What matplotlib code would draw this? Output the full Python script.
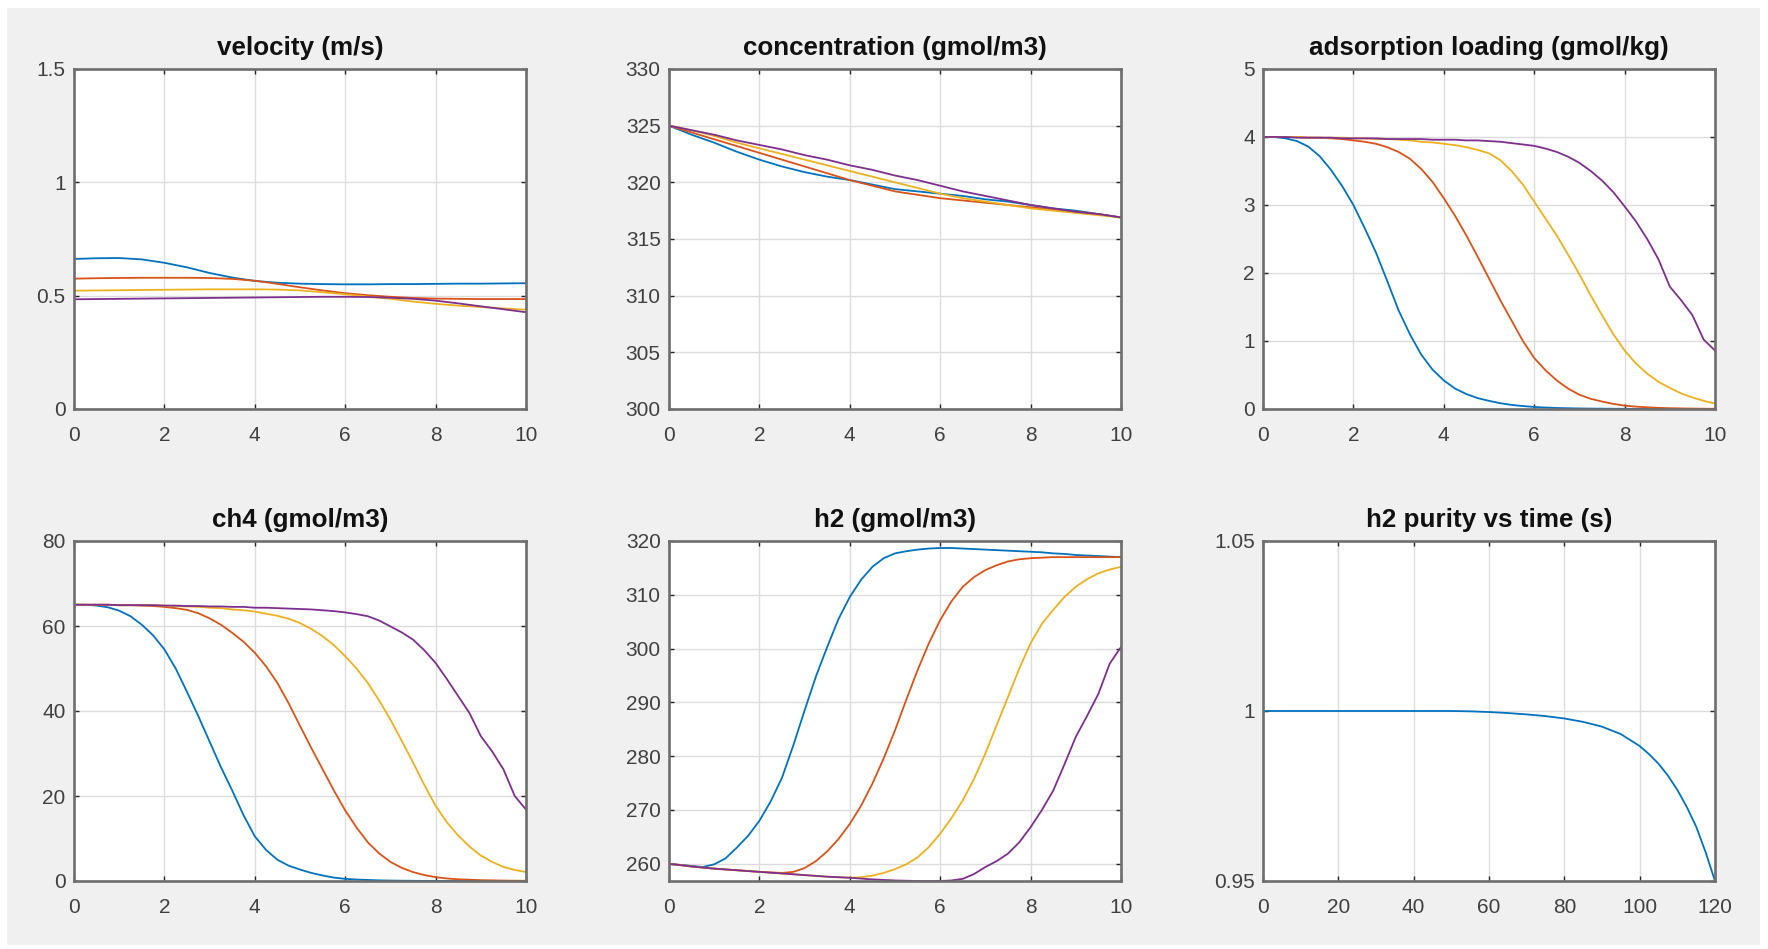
import matplotlib
matplotlib.use("Agg")
import matplotlib.pyplot as plt
from matplotlib.patches import Rectangle
from matplotlib.ticker import FormatStrFormatter

# axial position along the bed: coarse grid for the smooth profiles,
# fine grid for the steep breakthrough fronts
z = [0, 0.5, 1, 1.5, 2, 2.5, 3, 3.5, 4, 4.5, 5, 5.5, 6, 6.5, 7, 7.5, 8, 8.5, 9, 9.5, 10]
z_fine = [0, 0.25, 0.5, 0.75, 1, 1.25, 1.5, 1.75, 2, 2.25, 2.5, 2.75, 3, 3.25, 3.5, 3.75,
          4, 4.25, 4.5, 4.75, 5, 5.25, 5.5, 5.75, 6, 6.25, 6.5, 6.75, 7, 7.25, 7.5, 7.75,
          8, 8.25, 8.5, 8.75, 9, 9.25, 9.5, 9.75, 10]

velocity = [
    [.662, .665, .666, .660, .645, .625, .600, .580, .565, .557, .553, .551, .550, .550, .551, .551, .552, .553, .553, .554, .555],
    [.575, .577, .578, .579, .579, .579, .578, .574, .566, .552, .537, .523, .511, .502, .495, .490, .487, .486, .485, .485, .485],
    [.522, .523, .524, .525, .526, .527, .528, .528, .528, .527, .523, .515, .506, .496, .486, .474, .464, .456, .450, .444, .438],
    [.484, .485, .486, .487, .488, .489, .490, .491, .492, .493, .494, .495, .495, .494, .491, .486, .478, .466, .453, .440, .427],
]

concentration = [
    [325.0, 324.2, 323.5, 322.7, 322.0, 321.4, 320.9, 320.5, 320.2, 319.8, 319.4, 319.2, 319.0, 318.8, 318.5, 318.3, 318.0, 317.7, 317.5, 317.2, 316.9],
    [325.0, 324.4, 323.8, 323.2, 322.6, 322.0, 321.4, 320.8, 320.2, 319.7, 319.2, 318.9, 318.6, 318.4, 318.2, 318.0, 317.8, 317.6, 317.4, 317.2, 316.9],
    [325.0, 324.6, 324.1, 323.5, 323.0, 322.5, 322.0, 321.5, 321.0, 320.5, 320.0, 319.5, 319.0, 318.6, 318.3, 318.0, 317.7, 317.5, 317.3, 317.1, 316.9],
    [325.0, 324.6, 324.2, 323.7, 323.3, 322.9, 322.4, 322.0, 321.5, 321.1, 320.6, 320.2, 319.7, 319.2, 318.8, 318.4, 318.0, 317.7, 317.4, 317.2, 316.9],
]

loading = [
    [4.0, 4.0, 3.98, 3.94, 3.86, 3.72, 3.52, 3.28, 3.0, 2.66, 2.3, 1.88, 1.45, 1.1, 0.8, 0.58,
     0.42, 0.3, 0.22, 0.16, 0.12, 0.085, 0.06, 0.043, 0.03, 0.022, 0.015, 0.011, 0.008, 0.006, 0.005, 0.004,
     0.003, 0.0025, 0.002, 0.0015, 0.001, 0.001, 0.0, 0.0, 0.0],
    [4.0, 4.0, 4.0, 4.0, 3.99, 3.99, 3.98, 3.97, 3.95, 3.93, 3.9, 3.85, 3.78, 3.68, 3.53, 3.34,
     3.1, 2.84, 2.55, 2.24, 1.92, 1.6, 1.3, 1.0, 0.75, 0.57, 0.42, 0.3, 0.21, 0.15, 0.11, 0.075,
     0.05, 0.035, 0.025, 0.017, 0.012, 0.009, 0.006, 0.004, 0.003],
    [4.0, 4.0, 4.0, 4.0, 3.99, 3.99, 3.99, 3.99, 3.98, 3.98, 3.97, 3.97, 3.96, 3.95, 3.93, 3.92,
     3.9, 3.88, 3.85, 3.81, 3.76, 3.66, 3.5, 3.3, 3.05, 2.8, 2.55, 2.27, 1.98, 1.67, 1.38, 1.1,
     0.86, 0.67, 0.52, 0.4, 0.31, 0.23, 0.17, 0.12, 0.08],
    [4.0, 4.0, 4.0, 3.99, 3.99, 3.99, 3.99, 3.98, 3.98, 3.98, 3.98, 3.97, 3.97, 3.97, 3.97, 3.96,
     3.96, 3.96, 3.95, 3.95, 3.94, 3.93, 3.91, 3.89, 3.87, 3.83, 3.78, 3.71, 3.62, 3.5, 3.36, 3.19,
     2.98, 2.76, 2.5, 2.2, 1.8, 1.6, 1.38, 1.02, 0.86],
]

ch4 = [
    [65, 65, 64.8, 64.4, 63.6, 62.3, 60.3, 57.8, 54.5, 50.0, 44.5, 38.8, 32.8, 26.8, 21.3, 15.5,
     10.5, 7.3, 5.0, 3.6, 2.7, 1.9, 1.3, 0.8, 0.5, 0.35, 0.25, 0.15, 0.1, 0.07, 0.05, 0.03,
     0.02, 0.015, 0.01, 0.005, 0, 0, 0, 0, 0],
    [65, 65, 65, 65, 64.9, 64.9, 64.8, 64.7, 64.5, 64.2, 63.8, 63.0, 61.8, 60.3, 58.4, 56.3,
     53.7, 50.5, 46.6, 41.8, 36.5, 31.3, 26.3, 21.3, 16.6, 12.6, 9.1, 6.5, 4.5, 3.1, 2.1, 1.4,
     0.9, 0.6, 0.4, 0.3, 0.2, 0.15, 0.1, 0.07, 0.05],
    [65, 65, 65, 65, 64.9, 64.9, 64.9, 64.9, 64.8, 64.7, 64.6, 64.5, 64.3, 64.2, 63.9, 63.7,
     63.4, 62.9, 62.4, 61.7, 60.7, 59.3, 57.6, 55.5, 52.9, 50.0, 46.6, 42.5, 38.0, 33.0, 27.9, 22.6,
     17.7, 13.8, 10.7, 8.1, 6.0, 4.5, 3.3, 2.6, 2.1],
    [65, 65, 65, 65, 64.9, 64.9, 64.9, 64.9, 64.8, 64.8, 64.7, 64.7, 64.6, 64.6, 64.5, 64.5,
     64.3, 64.3, 64.2, 64.1, 64.0, 63.9, 63.7, 63.5, 63.2, 62.8, 62.3, 61.3, 59.9, 58.5, 56.8, 54.3,
     51.3, 47.5, 43.5, 39.5, 34.1, 30.5, 26.3, 20.0, 16.8],
]

h2 = [
    [260, 259.8, 259.6, 259.4, 259.9, 261.0, 263.0, 265.2, 268.0, 271.6, 276.0, 282.0, 288.5, 294.8, 300.3, 305.5,
     309.6, 312.8, 315.2, 316.8, 317.7, 318.1, 318.4, 318.6, 318.7, 318.7, 318.6, 318.5, 318.4, 318.3, 318.2, 318.1,
     318.0, 317.9, 317.7, 317.6, 317.4, 317.3, 317.2, 317.1, 317.0],
    [260, 259.75, 259.5, 259.3, 259.1, 258.95, 258.8, 258.65, 258.5, 258.4, 258.3, 258.5, 259.2, 260.5, 262.3, 264.6,
     267.4, 270.8, 274.9, 279.6, 284.8, 290.5, 296.0, 301.0, 305.3, 308.8, 311.5, 313.3, 314.6, 315.5, 316.2, 316.6,
     316.8, 316.9, 317.0, 317.0, 317.0, 317.0, 317.0, 317.0, 317.0],
    [260, 259.75, 259.5, 259.3, 259.1, 258.95, 258.8, 258.65, 258.5, 258.35, 258.2, 258.05, 257.9, 257.75, 257.6, 257.5,
     257.4, 257.5, 257.8, 258.3, 259.0, 259.9, 261.2, 263.1, 265.6, 268.5, 271.8, 275.8, 280.5, 285.8, 291.0, 296.3,
     301.0, 304.6, 307.2, 309.6, 311.5, 312.9, 314.0, 314.7, 315.2],
    [260, 259.75, 259.5, 259.3, 259.1, 258.95, 258.8, 258.65, 258.5, 258.35, 258.2, 258.05, 257.9, 257.75, 257.6, 257.5,
     257.4, 257.25, 257.1, 257.0, 256.9, 256.85, 256.8, 256.8, 256.8, 256.9, 257.2, 258.1, 259.4, 260.5, 261.9, 264.0,
     266.8, 270.0, 273.6, 278.5, 283.6, 287.5, 291.6, 297.2, 300.3],
]

# product purity over the cycle
time_s = [0, 5, 10, 15, 20, 25, 30, 35, 40, 45, 50, 55, 60, 65, 70, 75, 80, 85, 90, 95,
          100, 102.5, 105, 107.5, 110, 112.5, 115, 117.5, 120]
purity = [1, 1, 1, 1, 1, 1, 1, 1, 1, 1, 1, 0.9999, 0.9997, 0.9994, 0.999, 0.9985, 0.9978,
          0.9968, 0.9954, 0.9932, 0.9897, 0.9873, 0.9845, 0.981, 0.9768, 0.9718, 0.966, 0.9585, 0.95]

titles = ["velocity (m/s)", "concentration (gmol/m3)", "adsorption loading (gmol/kg)",
          "ch4 (gmol/m3)", "h2 (gmol/m3)", "h2 purity vs time (s)"]
z_ticks = [0, 2, 4, 6, 8, 10]
t_ticks = [0, 20, 40, 60, 80, 100, 120]
y_ticks = [
    [0, 0.5, 1, 1.5],
    [300, 305, 310, 315, 320, 325, 330],
    [0, 1, 2, 3, 4, 5],
    [0, 20, 40, 60, 80],
    [260, 270, 280, 290, 300, 310, 320],
    [0.95, 1, 1.05],
]
y_limits = [(0, 1.5), (300, 330), (0, 5), (0, 80), (256.8, 320), (0.95, 1.05)]

colors = ["#0072BD", "#D95319", "#EDB120", "#7E2F8E"]

plt.rcParams["font.family"] = ["Liberation Sans", "DejaVu Sans"]

W, H = 1768, 949
fig = plt.figure(figsize=(W / 100, H / 100), dpi=100, facecolor="white")
fig.patches.append(Rectangle((7 / W, 4 / H), 1753 / W, 937 / H, transform=fig.transFigure,
                             facecolor="#f0f0f0", edgecolor="none", zorder=-10))

col_left = [74, 669, 1263]
row_top = [69, 541]
ax_w, ax_h = 452, 340

profiles = [(z, velocity), (z, concentration), (z_fine, loading), (z_fine, ch4), (z_fine, h2)]

for i in range(6):
    r, c = divmod(i, 3)
    left = col_left[c] / W
    bottom = (H - row_top[r] - ax_h) / H
    ax = fig.add_axes([left, bottom, ax_w / W, ax_h / H])
    ax.set_facecolor("white")
    if i < 5:
        xs, group = profiles[i]
        for k, series in enumerate(group):
            ax.plot(xs, series, color=colors[k], lw=1.3, solid_joinstyle="round")
        ax.set_xlim(0, 10)
        ax.set_xticks(z_ticks)
    else:
        ax.plot(time_s, purity, color=colors[0], lw=1.3, solid_joinstyle="round")
        ax.set_xlim(0, 120)
        ax.set_xticks(t_ticks)
    ax.set_ylim(*y_limits[i])
    ax.set_yticks(y_ticks[i])
    ax.yaxis.set_major_formatter(FormatStrFormatter("%g"))
    ax.xaxis.set_major_formatter(FormatStrFormatter("%g"))
    ax.grid(True, color="#dcdcdc", lw=1.0)
    ax.set_axisbelow(True)
    for sp in ax.spines.values():
        sp.set_color("#6e6e6e")
        sp.set_linewidth(1.9)
    ax.tick_params(direction="in", length=3.5, width=1.0, color="#262626",
                   top=True, right=True, labelsize=15, labelcolor="#404040")
    ax.tick_params(axis="x", pad=12.5)
    ax.tick_params(axis="y", pad=6)
    ax.set_title(titles[i], fontsize=18.7, fontweight="bold", color="#111111", pad=10)

fig.savefig("out.png", dpi=100, facecolor=fig.get_facecolor())
